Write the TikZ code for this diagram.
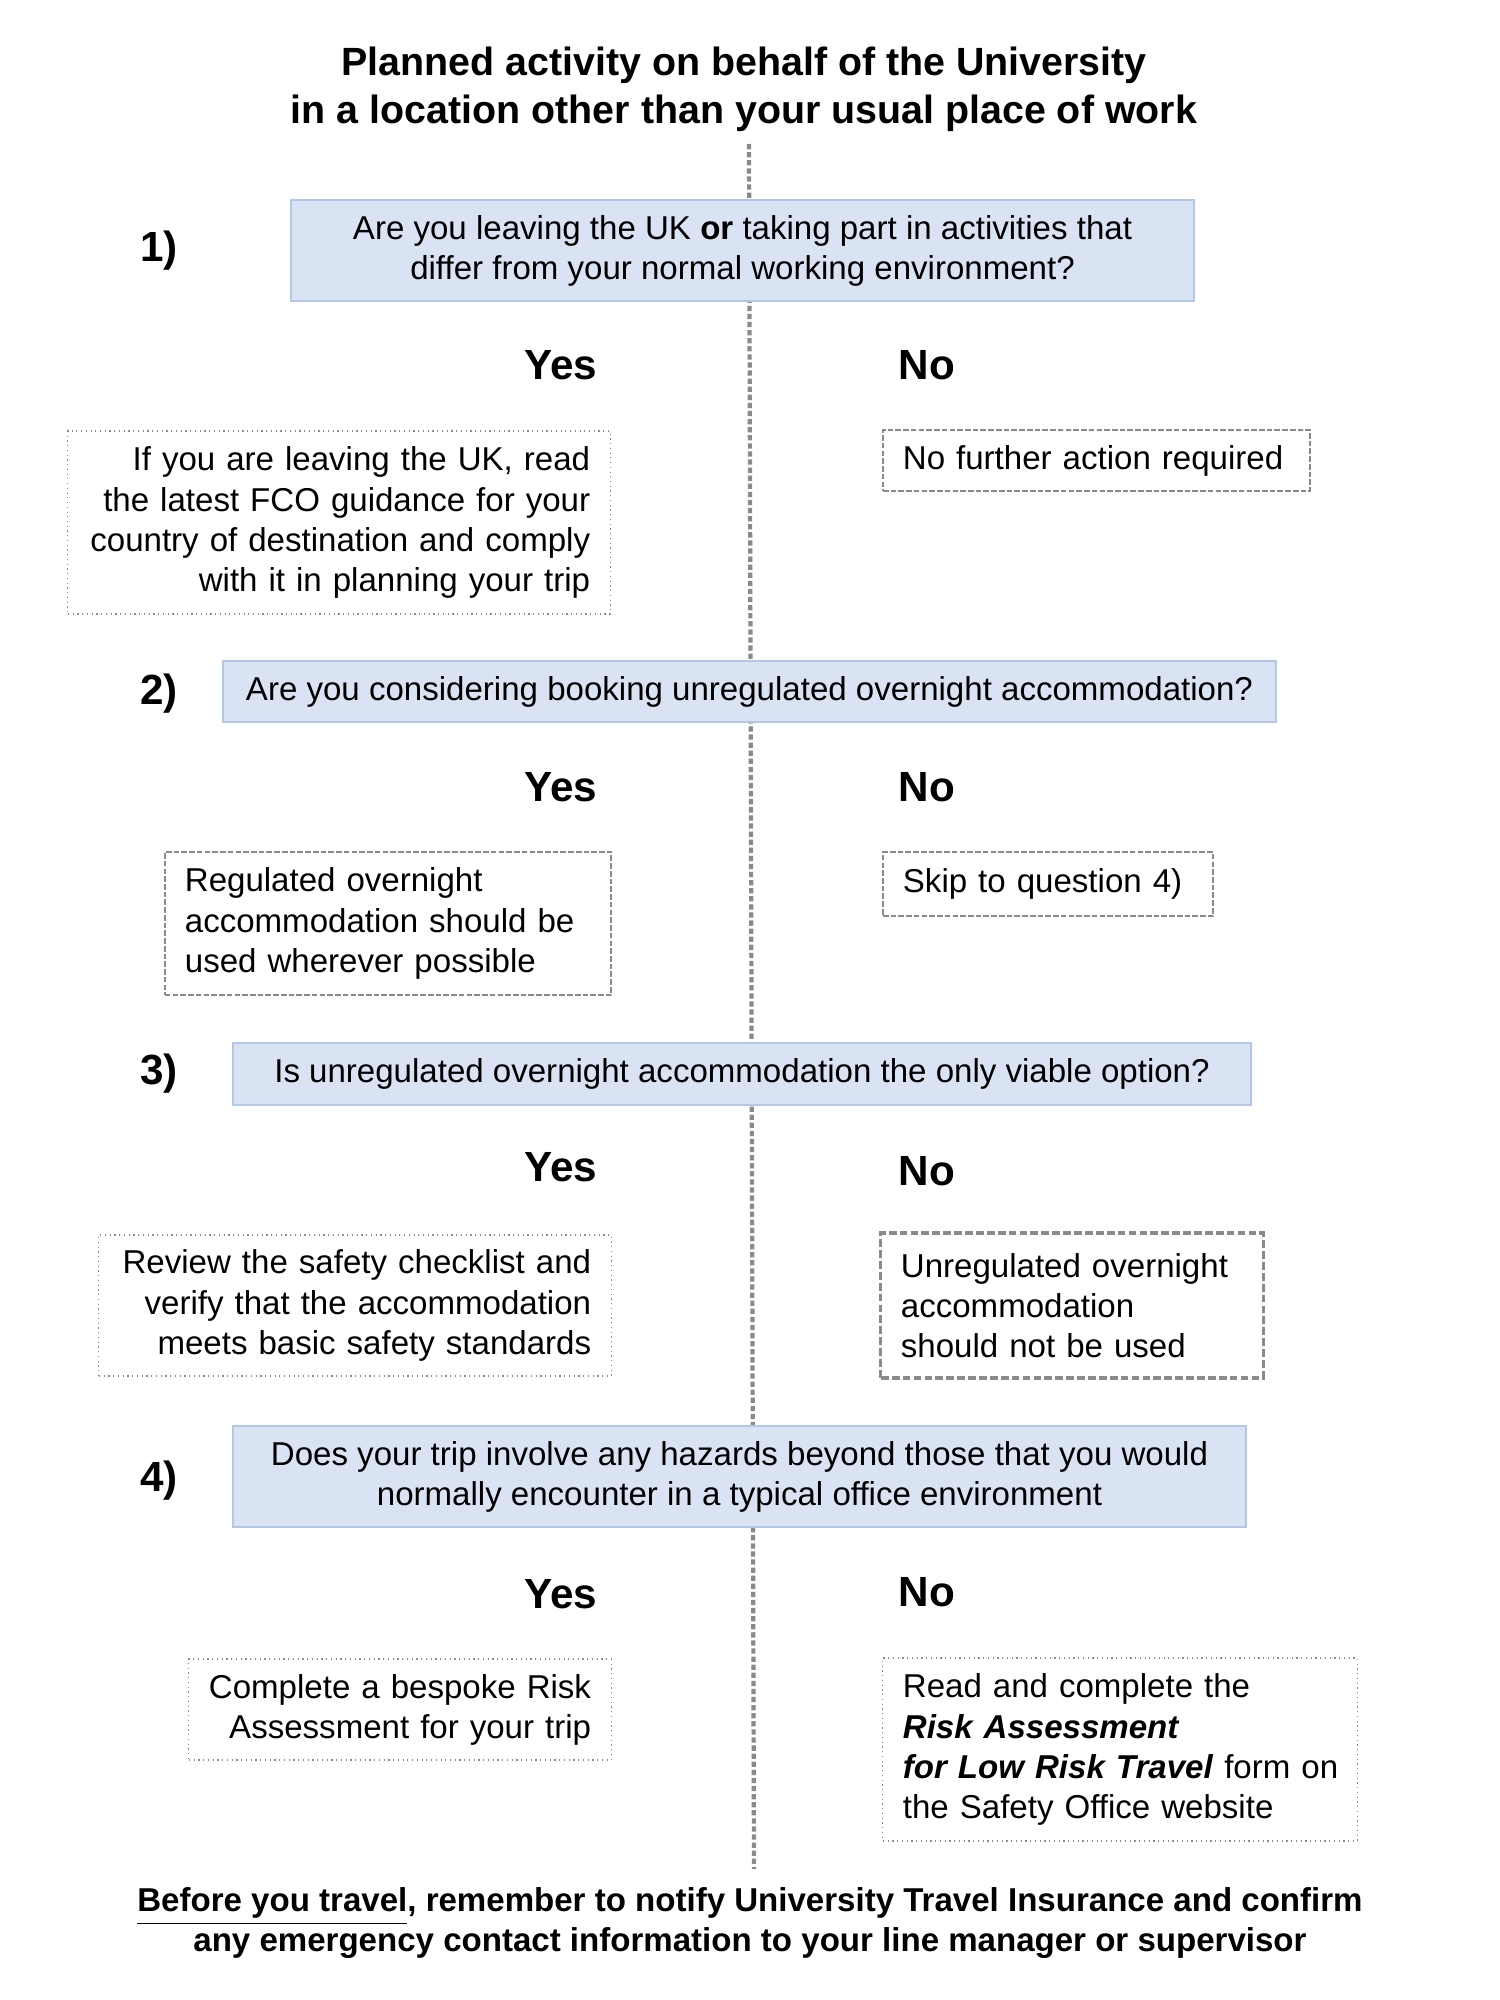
\documentclass[tikz,border=0pt]{standalone}
\usepackage{fontspec}
\setmainfont{Liberation Sans}
\definecolor{qfill}{HTML}{DAE3F3}
\definecolor{qline}{HTML}{B4C7E7}
\definecolor{midgray}{HTML}{8A8A8A}
\newcommand{\ulthin}[1]{\underline{#1}}
\begin{document}
\begin{tikzpicture}[x=0.01cm,y=-0.01cm,
  body/.style={font=\fontsize{9.4}{11.4}\selectfont},
  qbox/.style={body,fill=qfill,draw=qline,line width=0.6pt,align=center,inner sep=0pt},
  dotbox/.style={body,draw=midgray,line width=0.35pt,densely dotted,inner xsep=0.2cm,inner ysep=0pt},
  dashbox/.style={body,draw=midgray,line width=0.6pt,dash pattern=on 1.6pt off 0.6pt,inner xsep=0.2cm,inner ysep=0pt},
  heavydash/.style={body,draw=midgray,line width=0.9pt,dash pattern=on 2.2pt off 0.9pt,inner xsep=0.2cm,inner ysep=0pt},
  yesno/.style={font=\fontsize{12}{14}\selectfont\bfseries},
  qnum/.style={font=\fontsize{12}{14}\selectfont\bfseries},
  spine/.style={draw=midgray,line width=1.2pt,dash pattern=on 1.5pt off 0.8pt}]
\useasboundingbox[fill=white] (0,0) rectangle (1500,2000);

% central dotted spine
\coordinate (ltop) at (749,144);
\coordinate (lbot) at (754,1869);
\draw[spine] (ltop) -- (lbot);

% title
\node[font=\fontsize{11.2}{13.7}\selectfont\bfseries,align=center] (title) at (744,89)
  {Planned activity on behalf of the University\\in a location other than your usual place of work};

% question 1
\node[qbox,minimum width=9.03cm,minimum height=1.01cm] (q1) at (742.5,250.5)
  {Are you leaving the UK \textbf{or} taking part in activities that\\differ from your normal working environment?};
\node[qnum] (n1) at (159,251) {1)};
\node[yesno] (y1) at (561,365) {Yes};
\node[yesno] (no1) at (927,365) {No};
\node[dotbox,minimum width=5.42cm,minimum height=1.83cm,text width=5.02cm,align=right] (a1) at (339,522.5)
  {If you are leaving the UK, read\\the latest FCO guidance for your\\country of destination and comply\\with it in planning your trip};
\node[dashbox,minimum width=4.27cm,minimum height=0.61cm,text width=3.87cm,align=left] (b1) at (1096.5,460.5)
  {No further action required};

% question 2
\node[qbox,minimum width=10.53cm,minimum height=0.61cm] (q2) at (749.5,691.5)
  {Are you considering booking unregulated overnight accommodation?};
\node[qnum] (n2) at (159,694) {2)};
\node[yesno] (y2) at (561,787) {Yes};
\node[yesno] (no2) at (927,787) {No};
\node[dashbox,minimum width=4.46cm,minimum height=1.43cm,text width=4.06cm,align=left] (a2) at (388,923.5)
  {Regulated overnight\\accommodation should be\\used wherever possible};
\node[dashbox,minimum width=3.30cm,minimum height=0.64cm,text width=2.90cm,align=left] (b2) at (1048,884)
  {Skip to question 4)};

% question 3
\node[qbox,minimum width=10.18cm,minimum height=0.62cm] (q3) at (742,1074)
  {Is unregulated overnight accommodation the only viable option?};
\node[qnum] (n3) at (159,1074) {3)};
\node[yesno] (y3) at (561,1167) {Yes};
\node[yesno] (no3) at (927,1171) {No};
\node[dotbox,minimum width=5.12cm,minimum height=1.41cm,text width=4.72cm,align=right] (a3) at (355,1305.5)
  {Review the safety checklist and\\verify that the accommodation\\meets basic safety standards};
\node[heavydash,minimum width=3.82cm,minimum height=1.45cm,text width=3.42cm,align=left] (b3) at (1072,1305.5)
  {Unregulated overnight\\accommodation\\should not be used};

% question 4
\node[qbox,minimum width=10.13cm,minimum height=1.01cm] (q4) at (739.5,1476.5)
  {Does your trip involve any hazards beyond those that you would\\normally encounter in a typical office environment};
\node[qnum] (n4) at (159,1481) {4)};
\node[yesno] (y4) at (561,1594) {Yes};
\node[yesno] (no4) at (927,1592) {No};
\node[dotbox,minimum width=4.22cm,minimum height=1.01cm,text width=3.82cm,align=right] (a4) at (400,1709.5)
  {Complete a bespoke Risk\\Assessment for your trip};
\node[dotbox,minimum width=4.74cm,minimum height=1.83cm,text width=4.34cm,align=left] (b4) at (1120,1749.5)
  {Read and complete the\\\textbf{\textit{Risk Assessment}}\\\mbox{\textbf{\textit{for Low Risk Travel}} form on}\\the Safety Office website};

% footer
\node[font=\fontsize{9.4}{11.1}\selectfont\bfseries,align=center] (foot) at (750,1923)
  {\ulthin{Before you travel}, remember to notify University Travel Insurance and confirm\\any emergency contact information to your line manager or supervisor};
\end{tikzpicture}
\end{document}
